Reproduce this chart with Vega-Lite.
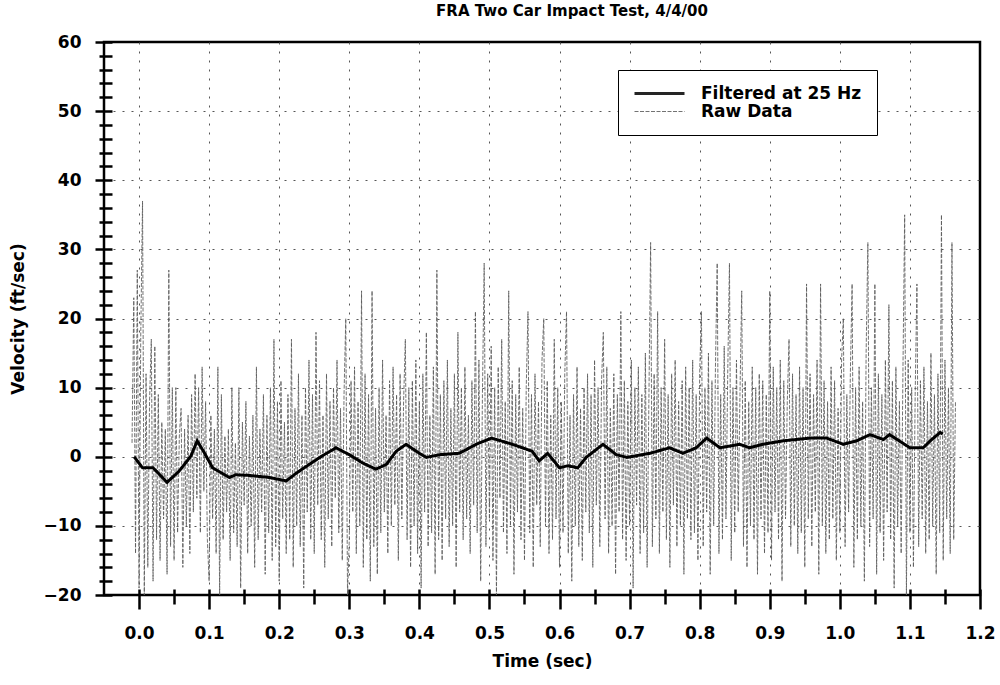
{
 "$schema": "https://vega.github.io/schema/vega-lite/v6.json",
 "width": 876, "height": 553,
 "autosize": {"type": "none"},
 "padding": {"left": 104, "top": 42, "right": 20, "bottom": 90},
 "background": "white",
 "title": {"text": "FRA Two Car Impact Test, 4/4/00", "font": "DejaVu Sans", "fontSize": 15, "fontWeight": "bold", "color": "black", "anchor": "middle", "dx": 30, "offset": 14},
 "config": {
  "view": {"stroke": "black", "strokeWidth": 2.5},
  "axis": {"labelFont": "DejaVu Sans", "labelFontWeight": "bold", "labelFontSize": 17, "labelColor": "black", "tickColor": "black", "tickWidth": 2.5, "domain": false, "labelFlush": false, "labelOverlap": false, "labelBound": false, "titleFont": "DejaVu Sans", "titleFontWeight": "bold", "titleFontSize": 17, "titleColor": "black", "gridColor": "#555555", "gridDash": [2, 7], "gridWidth": 1},
  "legend": {"orient": "none", "legendX": 514, "legendY": 28, "labelFont": "DejaVu Sans", "labelFontWeight": "bold", "labelFontSize": 17, "labelColor": "black", "labelLimit": 400, "symbolType": "stroke", "symbolSize": 2500, "clipHeight": 17, "strokeColor": "black", "padding": 15, "fillColor": "white", "labelOffset": 15, "rowPadding": 0}
 },
 "datasets": {
  "raw": [
   {"t":-0.01,"v":2},{"t":-0.0075,"v":23},{"t":-0.005,"v":-14},{"t":-0.0025,"v":27},{"t":0,"v":-19},{"t":0.0025,"v":18},{"t":0.005,"v":37},{"t":0.0075,"v":-20},{"t":0.01,"v":12},{"t":0.0125,"v":-16},{"t":0.015,"v":8},{"t":0.0175,"v":17},{"t":0.02,"v":-18},{"t":0.0225,"v":16},{"t":0.025,"v":-12},{"t":0.0275,"v":9},{"t":0.03,"v":-15},{"t":0.0325,"v":5},{"t":0.035,"v":-9},{"t":0.0375,"v":4},
   {"t":0.04,"v":-17},{"t":0.0425,"v":27},{"t":0.045,"v":-13},{"t":0.0475,"v":10},{"t":0.05,"v":-15},{"t":0.0525,"v":10},{"t":0.055,"v":-11},{"t":0.0575,"v":3},{"t":0.06,"v":7},{"t":0.0625,"v":-16},{"t":0.065,"v":4},{"t":0.0675,"v":-10},{"t":0.07,"v":6},{"t":0.0725,"v":-14},{"t":0.075,"v":9},{"t":0.0775,"v":-8},{"t":0.08,"v":12},{"t":0.0825,"v":-6},{"t":0.085,"v":10},{"t":0.0875,"v":-11},
   {"t":0.09,"v":13},{"t":0.0925,"v":-5},{"t":0.095,"v":8},{"t":0.0975,"v":-12},{"t":0.1,"v":-18},{"t":0.1025,"v":6},{"t":0.105,"v":-9},{"t":0.1075,"v":4},{"t":0.11,"v":-14},{"t":0.1125,"v":13},{"t":0.115,"v":-20},{"t":0.1175,"v":9},{"t":0.12,"v":-12},{"t":0.1225,"v":3},{"t":0.125,"v":-8},{"t":0.1275,"v":4},{"t":0.13,"v":-15},{"t":0.1325,"v":10},{"t":0.135,"v":-11},{"t":0.1375,"v":2},
   {"t":0.14,"v":-13},{"t":0.1425,"v":10},{"t":0.145,"v":-19},{"t":0.1475,"v":5},{"t":0.15,"v":-7},{"t":0.1525,"v":8},{"t":0.155,"v":-14},{"t":0.1575,"v":3},{"t":0.16,"v":-10},{"t":0.1625,"v":6},{"t":0.165,"v":-16},{"t":0.1675,"v":13},{"t":0.17,"v":-12},{"t":0.1725,"v":4},{"t":0.175,"v":-8},{"t":0.1775,"v":9},{"t":0.18,"v":-17},{"t":0.1825,"v":6},{"t":0.185,"v":-11},{"t":0.1875,"v":10},
   {"t":0.19,"v":-15},{"t":0.1925,"v":17},{"t":0.195,"v":-13},{"t":0.1975,"v":8},{"t":0.2,"v":-18},{"t":0.2025,"v":11},{"t":0.205,"v":-9},{"t":0.2075,"v":5},{"t":0.21,"v":-14},{"t":0.2125,"v":9},{"t":0.215,"v":-12},{"t":0.2175,"v":17},{"t":0.22,"v":-16},{"t":0.2225,"v":7},{"t":0.225,"v":-10},{"t":0.2275,"v":12},{"t":0.23,"v":-13},{"t":0.2325,"v":6},{"t":0.235,"v":-19},{"t":0.2375,"v":10},
   {"t":0.24,"v":-8},{"t":0.2425,"v":14},{"t":0.245,"v":-12},{"t":0.2475,"v":9},{"t":0.25,"v":-14},{"t":0.2525,"v":18},{"t":0.255,"v":-7},{"t":0.2575,"v":11},{"t":0.26,"v":-12},{"t":0.2625,"v":6},{"t":0.265,"v":-16},{"t":0.2675,"v":12},{"t":0.27,"v":-9},{"t":0.2725,"v":8},{"t":0.275,"v":-13},{"t":0.2775,"v":10},{"t":0.28,"v":-6},{"t":0.2825,"v":14},{"t":0.285,"v":-11},{"t":0.2875,"v":7},
   {"t":0.29,"v":-15},{"t":0.2925,"v":9},{"t":0.295,"v":20},{"t":0.2975,"v":-20},{"t":0.3,"v":-12},{"t":0.3025,"v":11},{"t":0.305,"v":-8},{"t":0.3075,"v":13},{"t":0.31,"v":-14},{"t":0.3125,"v":8},{"t":0.315,"v":-10},{"t":0.3175,"v":24},{"t":0.32,"v":-16},{"t":0.3225,"v":12},{"t":0.325,"v":-12},{"t":0.3275,"v":9},{"t":0.33,"v":-18},{"t":0.3325,"v":24},{"t":0.335,"v":-13},{"t":0.3375,"v":7},
   {"t":0.34,"v":-17},{"t":0.3425,"v":10},{"t":0.345,"v":-11},{"t":0.3475,"v":14},{"t":0.35,"v":-8},{"t":0.3525,"v":6},{"t":0.355,"v":-14},{"t":0.3575,"v":11},{"t":0.36,"v":-10},{"t":0.3625,"v":13},{"t":0.365,"v":-7},{"t":0.3675,"v":9},{"t":0.37,"v":-15},{"t":0.3725,"v":12},{"t":0.375,"v":-9},{"t":0.3775,"v":8},{"t":0.38,"v":17},{"t":0.3825,"v":-12},{"t":0.385,"v":10},{"t":0.3875,"v":-16},
   {"t":0.39,"v":11},{"t":0.3925,"v":-10},{"t":0.395,"v":14},{"t":0.3975,"v":-14},{"t":0.4,"v":8},{"t":0.4025,"v":-19},{"t":0.405,"v":12},{"t":0.4075,"v":-8},{"t":0.41,"v":18},{"t":0.4125,"v":-13},{"t":0.415,"v":6},{"t":0.4175,"v":-11},{"t":0.42,"v":13},{"t":0.4225,"v":-17},{"t":0.425,"v":27},{"t":0.4275,"v":-12},{"t":0.43,"v":9},{"t":0.4325,"v":-15},{"t":0.435,"v":11},{"t":0.4375,"v":-9},
   {"t":0.44,"v":14},{"t":0.4425,"v":-13},{"t":0.445,"v":7},{"t":0.4475,"v":-10},{"t":0.45,"v":12},{"t":0.4525,"v":-16},{"t":0.455,"v":18},{"t":0.4575,"v":-8},{"t":0.46,"v":10},{"t":0.4625,"v":-12},{"t":0.465,"v":13},{"t":0.4675,"v":-9},{"t":0.47,"v":6},{"t":0.4725,"v":-14},{"t":0.475,"v":11},{"t":0.4775,"v":-7},{"t":0.48,"v":21},{"t":0.4825,"v":-11},{"t":0.485,"v":14},{"t":0.4875,"v":-18},
   {"t":0.49,"v":9},{"t":0.4925,"v":28},{"t":0.495,"v":-13},{"t":0.4975,"v":12},{"t":0.5,"v":-9},{"t":0.5025,"v":16},{"t":0.505,"v":-15},{"t":0.5075,"v":10},{"t":0.51,"v":-20},{"t":0.5125,"v":13},{"t":0.515,"v":-6},{"t":0.5175,"v":17},{"t":0.52,"v":-11},{"t":0.5225,"v":8},{"t":0.525,"v":-14},{"t":0.5275,"v":24},{"t":0.53,"v":-10},{"t":0.5325,"v":11},{"t":0.535,"v":-17},{"t":0.5375,"v":9},
   {"t":0.54,"v":-8},{"t":0.5425,"v":13},{"t":0.545,"v":-12},{"t":0.5475,"v":7},{"t":0.55,"v":-15},{"t":0.5525,"v":10},{"t":0.555,"v":21},{"t":0.5575,"v":-11},{"t":0.56,"v":9},{"t":0.5625,"v":-16},{"t":0.565,"v":12},{"t":0.5675,"v":-7},{"t":0.57,"v":8},{"t":0.5725,"v":-13},{"t":0.575,"v":14},{"t":0.5775,"v":20},{"t":0.58,"v":-10},{"t":0.5825,"v":11},{"t":0.585,"v":-14},{"t":0.5875,"v":6},
   {"t":0.59,"v":-12},{"t":0.5925,"v":17},{"t":0.595,"v":-9},{"t":0.5975,"v":10},{"t":0.6,"v":-16},{"t":0.6025,"v":8},{"t":0.605,"v":-11},{"t":0.6075,"v":12},{"t":0.61,"v":21},{"t":0.6125,"v":-14},{"t":0.615,"v":6},{"t":0.6175,"v":-18},{"t":0.62,"v":9},{"t":0.6225,"v":-10},{"t":0.625,"v":13},{"t":0.6275,"v":-13},{"t":0.63,"v":7},{"t":0.6325,"v":-15},{"t":0.635,"v":10},{"t":0.6375,"v":-8},
   {"t":0.64,"v":12},{"t":0.6425,"v":-11},{"t":0.645,"v":9},{"t":0.6475,"v":-16},{"t":0.65,"v":14},{"t":0.6525,"v":-7},{"t":0.655,"v":10},{"t":0.6575,"v":-13},{"t":0.66,"v":11},{"t":0.6625,"v":18},{"t":0.665,"v":-9},{"t":0.6675,"v":13},{"t":0.67,"v":-14},{"t":0.6725,"v":7},{"t":0.675,"v":-10},{"t":0.6775,"v":12},{"t":0.68,"v":-17},{"t":0.6825,"v":9},{"t":0.685,"v":-8},{"t":0.6875,"v":21},
   {"t":0.69,"v":-12},{"t":0.6925,"v":11},{"t":0.695,"v":-15},{"t":0.6975,"v":8},{"t":0.7,"v":-10},{"t":0.7025,"v":14},{"t":0.705,"v":-19},{"t":0.7075,"v":10},{"t":0.71,"v":-7},{"t":0.7125,"v":13},{"t":0.715,"v":-14},{"t":0.7175,"v":9},{"t":0.72,"v":-11},{"t":0.7225,"v":15},{"t":0.725,"v":-16},{"t":0.7275,"v":8},{"t":0.73,"v":31},{"t":0.7325,"v":-13},{"t":0.735,"v":12},{"t":0.7375,"v":-9},
   {"t":0.74,"v":21},{"t":0.7425,"v":-14},{"t":0.745,"v":10},{"t":0.7475,"v":-8},{"t":0.75,"v":17},{"t":0.7525,"v":-12},{"t":0.755,"v":9},{"t":0.7575,"v":-16},{"t":0.76,"v":12},{"t":0.7625,"v":-7},{"t":0.765,"v":14},{"t":0.7675,"v":-13},{"t":0.77,"v":8},{"t":0.7725,"v":-10},{"t":0.775,"v":11},{"t":0.7775,"v":-17},{"t":0.78,"v":13},{"t":0.7825,"v":-9},{"t":0.785,"v":10},{"t":0.7875,"v":-12},
   {"t":0.79,"v":14},{"t":0.7925,"v":-11},{"t":0.795,"v":9},{"t":0.7975,"v":-15},{"t":0.8,"v":12},{"t":0.8025,"v":21},{"t":0.805,"v":-13},{"t":0.8075,"v":10},{"t":0.81,"v":-8},{"t":0.8125,"v":15},{"t":0.815,"v":-17},{"t":0.8175,"v":11},{"t":0.82,"v":-10},{"t":0.8225,"v":13},{"t":0.825,"v":28},{"t":0.8275,"v":-14},{"t":0.83,"v":9},{"t":0.8325,"v":-12},{"t":0.835,"v":16},{"t":0.8375,"v":-9},
   {"t":0.84,"v":12},{"t":0.8425,"v":28},{"t":0.845,"v":-15},{"t":0.8475,"v":10},{"t":0.85,"v":-11},{"t":0.8525,"v":14},{"t":0.855,"v":-8},{"t":0.8575,"v":9},{"t":0.86,"v":24},{"t":0.8625,"v":-13},{"t":0.865,"v":11},{"t":0.8675,"v":-16},{"t":0.87,"v":8},{"t":0.8725,"v":-10},{"t":0.875,"v":13},{"t":0.8775,"v":-12},{"t":0.88,"v":10},{"t":0.8825,"v":-17},{"t":0.885,"v":12},{"t":0.8875,"v":-9},
   {"t":0.89,"v":11},{"t":0.8925,"v":-14},{"t":0.895,"v":9},{"t":0.8975,"v":-11},{"t":0.9,"v":24},{"t":0.9025,"v":-15},{"t":0.905,"v":13},{"t":0.9075,"v":-8},{"t":0.91,"v":10},{"t":0.9125,"v":-12},{"t":0.915,"v":14},{"t":0.9175,"v":-18},{"t":0.92,"v":11},{"t":0.9225,"v":-9},{"t":0.925,"v":8},{"t":0.9275,"v":17},{"t":0.93,"v":-13},{"t":0.9325,"v":12},{"t":0.935,"v":-10},{"t":0.9375,"v":9},
   {"t":0.94,"v":-14},{"t":0.9425,"v":13},{"t":0.945,"v":-11},{"t":0.9475,"v":10},{"t":0.95,"v":-16},{"t":0.9525,"v":25},{"t":0.955,"v":-9},{"t":0.9575,"v":12},{"t":0.96,"v":-13},{"t":0.9625,"v":9},{"t":0.965,"v":-8},{"t":0.9675,"v":14},{"t":0.97,"v":-17},{"t":0.9725,"v":25},{"t":0.975,"v":-10},{"t":0.9775,"v":11},{"t":0.98,"v":-14},{"t":0.9825,"v":8},{"t":0.985,"v":-12},{"t":0.9875,"v":13},
   {"t":0.99,"v":-9},{"t":0.9925,"v":11},{"t":0.995,"v":-15},{"t":0.9975,"v":7},{"t":1.0,"v":-11},{"t":1.0025,"v":14},{"t":1.005,"v":20},{"t":1.0075,"v":-13},{"t":1.01,"v":9},{"t":1.0125,"v":-8},{"t":1.015,"v":12},{"t":1.0175,"v":25},{"t":1.02,"v":-16},{"t":1.0225,"v":10},{"t":1.025,"v":-12},{"t":1.0275,"v":13},{"t":1.03,"v":-10},{"t":1.0325,"v":8},{"t":1.035,"v":-18},{"t":1.0375,"v":15},
   {"t":1.04,"v":31},{"t":1.0425,"v":-13},{"t":1.045,"v":10},{"t":1.0475,"v":-9},{"t":1.05,"v":25},{"t":1.0525,"v":-17},{"t":1.055,"v":12},{"t":1.0575,"v":-11},{"t":1.06,"v":9},{"t":1.0625,"v":-15},{"t":1.065,"v":14},{"t":1.0675,"v":-8},{"t":1.07,"v":22},{"t":1.0725,"v":-12},{"t":1.075,"v":11},{"t":1.0775,"v":-19},{"t":1.08,"v":13},{"t":1.0825,"v":-10},{"t":1.085,"v":8},{"t":1.0875,"v":-14},
   {"t":1.09,"v":12},{"t":1.0925,"v":35},{"t":1.095,"v":-20},{"t":1.0975,"v":14},{"t":1.1,"v":-11},{"t":1.1025,"v":10},{"t":1.105,"v":-16},{"t":1.1075,"v":9},{"t":1.11,"v":25},{"t":1.1125,"v":-13},{"t":1.115,"v":11},{"t":1.1175,"v":-9},{"t":1.12,"v":13},{"t":1.1225,"v":-14},{"t":1.125,"v":8},{"t":1.1275,"v":-12},{"t":1.13,"v":15},{"t":1.1325,"v":-10},{"t":1.135,"v":9},{"t":1.1375,"v":-17},
   {"t":1.14,"v":12},{"t":1.1425,"v":-11},{"t":1.145,"v":35},{"t":1.1475,"v":-15},{"t":1.15,"v":14},{"t":1.1525,"v":-9},{"t":1.155,"v":10},{"t":1.1575,"v":-14},{"t":1.16,"v":31},{"t":1.1625,"v":-12},{"t":1.165,"v":8}
  ],
  "filtered": [
   {"t":-0.007,"v":0},{"t":0.005,"v":-1.6},{"t":0.02,"v":-1.6},{"t":0.04,"v":-3.7},{"t":0.057,"v":-2.1},{"t":0.074,"v":0.1},{"t":0.083,"v":2.3},{"t":0.093,"v":0.6},{"t":0.105,"v":-1.6},{"t":0.129,"v":-3.0},{"t":0.138,"v":-2.6},{"t":0.157,"v":-2.7},{"t":0.186,"v":-3.0},{"t":0.21,"v":-3.5},{"t":0.224,"v":-2.4},{"t":0.243,"v":-1.1},{"t":0.261,"v":0.1},{"t":0.281,"v":1.3},{"t":0.3,"v":0.3},{"t":0.319,"v":-0.9},{"t":0.338,"v":-1.8},{"t":0.353,"v":-1.1},{"t":0.367,"v":0.8},{"t":0.381,"v":1.8},{"t":0.4,"v":0.5},{"t":0.41,"v":-0.1},{"t":0.429,"v":0.3},{"t":0.457,"v":0.5},{"t":0.481,"v":1.8},{"t":0.503,"v":2.7},{"t":0.533,"v":1.8},{"t":0.561,"v":0.8},{"t":0.571,"v":-0.6},{"t":0.583,"v":0.5},{"t":0.6,"v":-1.6},{"t":0.612,"v":-1.3},{"t":0.626,"v":-1.6},{"t":0.638,"v":-0.1},{"t":0.662,"v":1.8},{"t":0.681,"v":0.3},{"t":0.696,"v":-0.1},{"t":0.729,"v":0.5},{"t":0.757,"v":1.3},{"t":0.776,"v":0.5},{"t":0.795,"v":1.3},{"t":0.81,"v":2.7},{"t":0.829,"v":1.3},{"t":0.857,"v":1.8},{"t":0.871,"v":1.3},{"t":0.89,"v":1.8},{"t":0.919,"v":2.3},{"t":0.957,"v":2.7},{"t":0.981,"v":2.7},{"t":1.005,"v":1.8},{"t":1.024,"v":2.3},{"t":1.043,"v":3.2},{"t":1.062,"v":2.5},{"t":1.071,"v":3.2},{"t":1.1,"v":1.3},{"t":1.119,"v":1.3},{"t":1.129,"v":2.3},{"t":1.143,"v":3.5},{"t":1.147,"v":3.3}
  ]
 },
 "encoding": {
  "x": {"field": "t", "type": "quantitative", "scale": {"domain": [-0.05, 1.2], "nice": false, "zero": false},
   "axis": {"title": "Time (sec)", "values": [0,0.05,0.1,0.15,0.2,0.25,0.3,0.35,0.4,0.45,0.5,0.55,0.6,0.65,0.7,0.75,0.8,0.85,0.9,0.95,1,1.05,1.1,1.15,1.2],
    "labelExpr": "abs(datum.value*10 - round(datum.value*10)) < 0.01 ? format(datum.value, '.1f') : ''",
    "tickSize": {"condition": {"test": "abs(datum.value*10 - round(datum.value*10)) < 0.01", "value": 20}, "value": 15},
    "offset": -6, "grid": true,
    "gridOpacity": {"condition": {"test": "abs(datum.value*10 - round(datum.value*10)) < 0.01 && datum.value < 1.15", "value": 1}, "value": 0},
    "labelPadding": 16, "titlePadding": 12}},
  "y": {"field": "v", "type": "quantitative", "scale": {"domain": [-20, 60], "nice": false, "zero": false},
   "axis": {"title": "Velocity (ft/sec)", "values": [-20,-18,-16,-14,-12,-10,-8,-6,-4,-2,0,2,4,6,8,10,12,14,16,18,20,22,24,26,28,30,32,34,36,38,40,42,44,46,48,50,52,54,56,58,60],
    "labelExpr": "datum.value % 10 == 0 ? datum.label : ''",
    "tickSize": {"condition": {"test": "datum.value % 10 == 0", "value": 17}, "value": 13},
    "offset": -8, "grid": true,
    "gridOpacity": {"condition": {"test": "datum.value % 10 == 0 && datum.value > -20 && datum.value < 60", "value": 1}, "value": 0},
    "labelPadding": 14, "titlePadding": 16}}
 },
 "layer": [
  {"data": {"name": "raw"},
   "mark": {"type": "line", "clip": true, "opacity": 0.85},
   "encoding": {
    "color": {"datum": "Raw Data", "type": "nominal", "scale": {"domain": ["Filtered at 25 Hz", "Raw Data"], "range": ["#000000", "#5a5a5a"]}, "legend": {"title": null}},
    "strokeDash": {"datum": "Raw Data", "type": "nominal", "scale": {"domain": ["Filtered at 25 Hz", "Raw Data"], "range": [[1, 0], [4, 1.5]]}, "legend": {"title": null}},
    "strokeWidth": {"datum": "Raw Data", "type": "ordinal", "scale": {"domain": ["Filtered at 25 Hz", "Raw Data"], "range": [3, 1]}, "legend": {"title": null}}
   }},
  {"data": {"name": "filtered"},
   "mark": {"type": "line", "clip": true},
   "encoding": {
    "color": {"datum": "Filtered at 25 Hz", "type": "nominal"},
    "strokeDash": {"datum": "Filtered at 25 Hz", "type": "nominal"},
    "strokeWidth": {"datum": "Filtered at 25 Hz", "type": "ordinal"}
   }}
 ]
}
